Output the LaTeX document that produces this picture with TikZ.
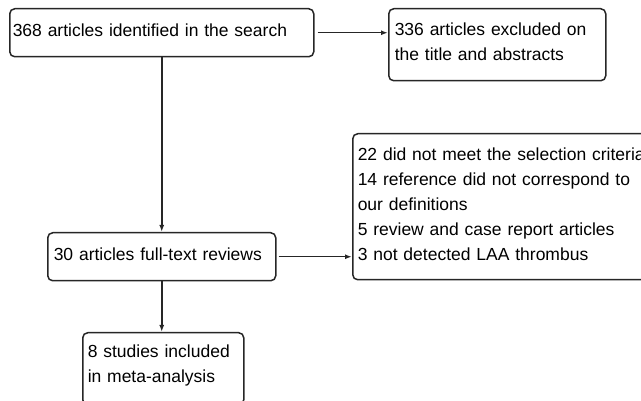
\documentclass[tikz,border=0pt]{standalone}
\usepackage{fontspec}
\setmainfont{Liberation Sans}
\usetikzlibrary{arrows.meta}
\begin{document}
\begin{tikzpicture}[x=1pt,y=-1pt,
  every node/.style={font=\fontsize{17.5}{25}\selectfont},
  flowbox/.style={draw=black!85,line width=1.5pt,rounded corners=5pt,anchor=north west,
    align=left,inner xsep=5pt,inner ysep=0pt,execute at end node={\endgraf\kern6pt}},
  flowarrow/.style={draw=black!85,line width=1.5pt,-{Latex[length=7pt,width=5pt]}}]
\clip (0,0) rectangle (641,401);
% flow boxes, placed at their top left corners
\node[flowbox,inner xsep=3pt,text width=298pt,minimum height=48pt] (search) at (9,8) {368 articles identified in the search};
\node[flowbox,inner xsep=6pt,text width=205pt,minimum height=72pt] (excluded) at (388,8) {336 articles excluded on\\the title and abstracts};
\node[flowbox,inner xsep=6pt,text width=216pt,minimum height=48pt] (fulltext) at (47,232) {30 articles full-text reviews};
\node[flowbox,text width=290pt,minimum height=146pt] (reasons) at (352,133) {22 did not meet the selection criteria\\14 reference did not correspond to\\our definitions\\5 review and case report articles\\3 not detected LAA thrombus};
\node[flowbox,text width=151pt,minimum height=72pt] (included) at (82,332) {8 studies included\\in meta-analysis};
% connectors
\draw[flowarrow] ([xshift=3pt]search.east) -- (search.east -| excluded.west);
\draw[flowarrow] (search.south) -- (search.south |- fulltext.north);
\draw[flowarrow] ([xshift=2pt]fulltext.east) -- (fulltext.east -| reasons.west);
\draw[flowarrow] (fulltext.south) -- (fulltext.south |- included.north);
\end{tikzpicture}
\end{document}
